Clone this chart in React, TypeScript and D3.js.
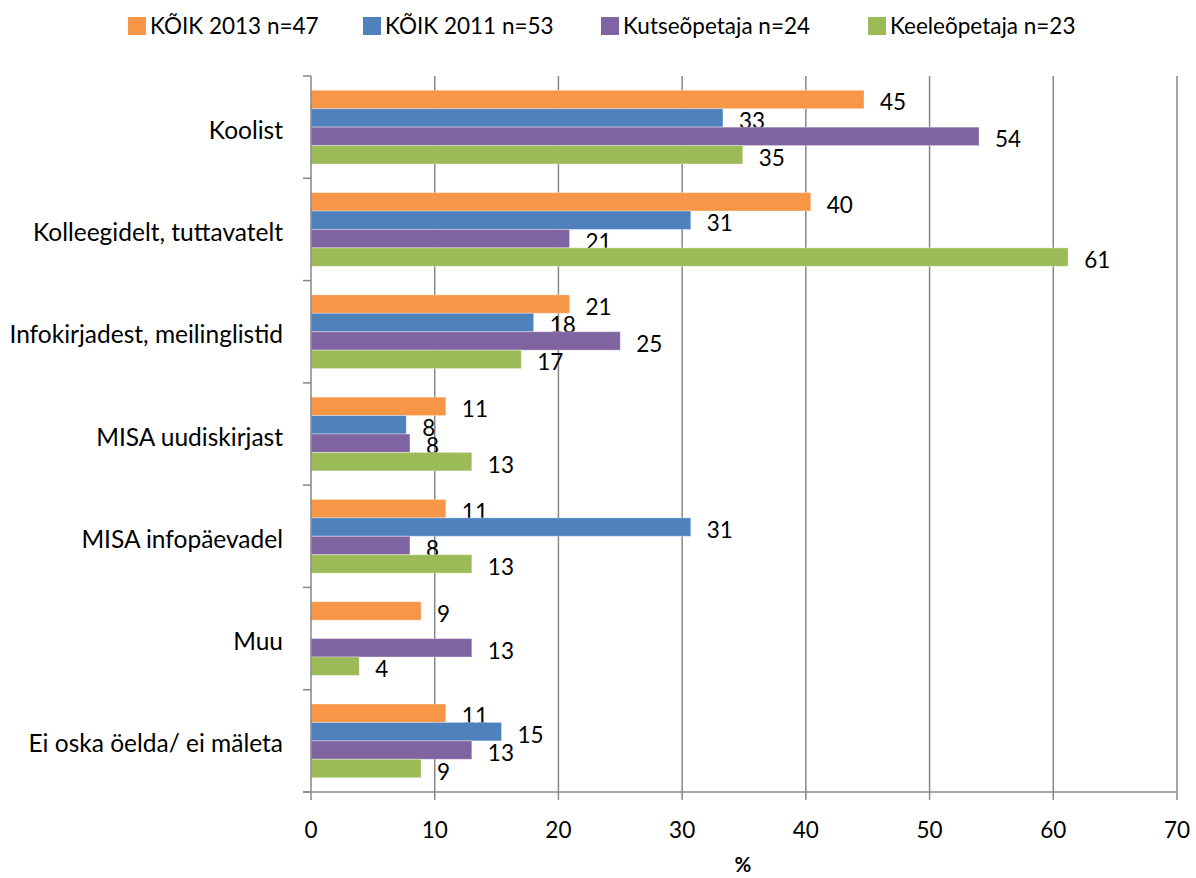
import React from "react";
import * as d3 from "d3";

const categories = [
  "Koolist",
  "Kolleegidelt, tuttavatelt",
  "Infokirjadest, meilinglistid",
  "MISA uudiskirjast",
  "MISA infopäevadel",
  "Muu",
  "Ei oska öelda/ ei mäleta",
];

const seriesNames = [
  "KÕIK 2013 n=47",
  "KÕIK 2011 n=53",
  "Kutseõpetaja n=24",
  "Keeleõpetaja n=23",
];

const kook2013: (number | null)[] = [44.7, 40.4, 20.9, 10.9, 10.9, 8.9, 10.9];
const kook2011: (number | null)[] = [33.3, 30.7, 18.0, 7.7, 30.7, null, 15.4];
const kutse: (number | null)[] = [54.0, 20.9, 25.0, 8.0, 8.0, 13.0, 13.0];
const keele: (number | null)[] = [34.9, 61.2, 17.0, 13.0, 13.0, 3.9, 8.9];

const seriesValues = [kook2013, kook2011, kutse, keele];
const colors = ["#F79646", "#4F81BD", "#8064A2", "#9BBB59"];
const xTicks = [0, 10, 20, 30, 40, 50, 60, 70];

const W = 1196;
const H = 878;
const left = 311;
const right = 1177;
const top = 76;
const bottom = 792;
const FONT = "Lato, 'Open Sans', sans-serif";
const FS = 22.5;
const CAT_FS = 24.5;
const gridColor = "#878787";

export default function App() {
  const x = d3.scaleLinear().domain([0, 70]).range([left, right]);
  const y = d3.scaleBand<string>().domain(categories).range([top, bottom]).padding(0);
  const bw = y.bandwidth();
  const barH = bw / 5.55;
  const groupH = barH * 4;
  const fmt = d3.format(".0f");
  const legendX = [128, 363, 601, 868];

  return (
    <svg width={W} height={H} style={{ position: "absolute", left: 0, top: 0, background: "#fff" }} fontFamily={FONT}>
      <rect x={0} y={0} width={W} height={H} fill="#fff" />
      {/* legend */}
      {seriesNames.map((n, i) => (
        <g key={n}>
          <rect x={legendX[i]} y={17} width={18} height={18} fill={colors[i]} />
          <text x={legendX[i] + 22} y={34} fontSize={FS} fill="#000">{n}</text>
        </g>
      ))}
      {/* gridlines */}
      {xTicks.slice(1).map((t) => (
        <line key={t} x1={x(t)} x2={x(t)} y1={top} y2={bottom} stroke={gridColor} strokeWidth={1.5} />
      ))}
      {/* bars */}
      {categories.map((c, ci) => {
        const y0 = (y(c) as number) + (bw - groupH) / 2;
        return (
          <g key={c}>
            {seriesValues.map((vals, si) => {
              const v = vals[ci];
              if (v == null) return null;
              const by = y0 + si * barH;
              return (
                <g key={si}>
                  <rect x={x(0)} y={by} width={x(v) - x(0)} height={barH} fill={colors[si]} stroke="#ffffff" strokeOpacity={0.35} strokeWidth={1} />
                  <text x={x(v) + 16} y={by + barH / 2 + 3 + 8} fontSize={FS} fill="#000">{fmt(v)}</text>
                </g>
              );
            })}
          </g>
        );
      })}
      {/* y axis */}
      <line x1={left} x2={left} y1={top} y2={bottom} stroke={gridColor} strokeWidth={1.5} />
      {d3.range(categories.length + 1).map((i) => (
        <line key={i} x1={left - 8} x2={left} y1={top + i * bw} y2={top + i * bw} stroke={gridColor} strokeWidth={1.5} />
      ))}
      {categories.map((c) => (
        <text key={c} x={283} y={(y(c) as number) + bw / 2 + 3 + 8.5} fontSize={CAT_FS} textAnchor="end" fill="#000">{c}</text>
      ))}
      {/* x axis */}
      <line x1={left - 8} x2={right} y1={bottom} y2={bottom} stroke={gridColor} strokeWidth={1.5} />
      {xTicks.map((t) => (
        <g key={t}>
          <line x1={x(t)} x2={x(t)} y1={bottom} y2={bottom + 8} stroke={gridColor} strokeWidth={1.5} />
          <text x={x(t)} y={838} fontSize={FS} textAnchor="middle" fill="#000">{t}</text>
        </g>
      ))}
      <text x={743} y={872} fontSize={FS - 2} fontWeight="bold" textAnchor="middle" fill="#000">%</text>
    </svg>
  );
}
